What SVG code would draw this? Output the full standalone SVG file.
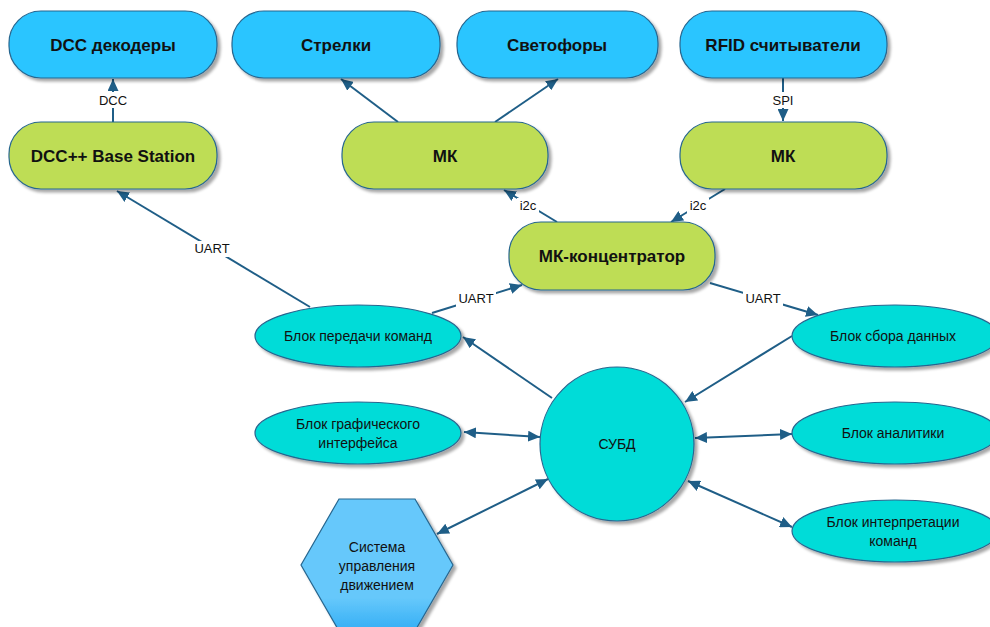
<svg xmlns="http://www.w3.org/2000/svg" width="990" height="627" viewBox="0 0 990 627">
  <style>
    .blue { fill: #29c5ff; stroke: #27668f; stroke-width: 1.2; }
    .green { fill: #bedd55; stroke: #27668f; stroke-width: 1.2; }
    .teal { fill: #05dcd8; stroke: #27668f; stroke-width: 1.2; }
    .hex { fill: url(#hexFill); stroke: #27668f; stroke-width: 1.2; }
    .shape { filter: url(#shadow); }
    .big { font-family: "Liberation Sans", Arial, sans-serif; font-weight: bold; font-size: 17px; fill: #111; text-anchor: middle; }
    .small { font-family: "Liberation Sans", Arial, sans-serif; font-size: 14px; fill: #111; text-anchor: middle; }
    .lbl { font-family: "Liberation Sans", Arial, sans-serif; font-size: 13px; fill: #111; text-anchor: middle; }
    .edge { stroke: #1f5e87; stroke-width: 2; fill: none; }
    .one { marker-end: url(#arrow); }
    .two { marker-start: url(#arrowStart); marker-end: url(#arrow); }
  </style>
  <defs>
    <filter id="shadow" x="-10%" y="-10%" width="130%" height="140%">
      <feGaussianBlur in="SourceAlpha" stdDeviation="1.5"/>
      <feOffset dx="3" dy="3" result="b"/>
      <feComponentTransfer><feFuncA type="linear" slope="0.35"/></feComponentTransfer>
      <feMerge><feMergeNode/><feMergeNode in="SourceGraphic"/></feMerge>
    </filter>
    <linearGradient id="hexFill" x1="0" y1="0" x2="0" y2="1">
      <stop offset="0" stop-color="#66c8fb"/>
      <stop offset="0.75" stop-color="#66c8fb"/>
      <stop offset="1" stop-color="#33aef5"/>
    </linearGradient>
    <!-- filled triangular heads for all links -->
    <marker id="arrow" viewBox="0 0 12 12" refX="12" refY="6" markerWidth="12" markerHeight="11" markerUnits="userSpaceOnUse" orient="auto" preserveAspectRatio="none">
      <path d="M0,0 L12,6 L0,12 z" fill="#1f5e87"/>
    </marker>
    <marker id="arrowStart" viewBox="0 0 12 12" refX="0" refY="6" markerWidth="12" markerHeight="11" markerUnits="userSpaceOnUse" orient="auto" preserveAspectRatio="none">
      <path d="M12,0 L0,6 L12,12 z" fill="#1f5e87"/>
    </marker>
  </defs>

  <g id="connectors">
    <line class="edge one" x1="113" y1="122" x2="113" y2="79"/>
    <line class="edge one" x1="398" y1="122" x2="341" y2="79"/>
    <line class="edge one" x1="495" y1="122" x2="558" y2="79"/>
    <line class="edge one" x1="783" y1="78" x2="783" y2="121"/>
    <line class="edge one" x1="557" y1="222" x2="504" y2="190"/>
    <line class="edge one" x1="725" y1="189" x2="671" y2="222"/>
    <line class="edge one" x1="310" y1="307" x2="117" y2="191"/>
    <line class="edge one" x1="432" y1="313" x2="522" y2="285"/>
    <line class="edge one" x1="710" y1="283" x2="818" y2="315"/>
    <line class="edge one" x1="552" y1="398" x2="463" y2="337"/>
    <line class="edge one" x1="792" y1="336" x2="685" y2="402"/>
    <line class="edge two" x1="464" y1="432" x2="540" y2="437"/>
    <line class="edge two" x1="695" y1="438" x2="792" y2="434"/>
    <line class="edge two" x1="688" y1="481" x2="792" y2="527"/>
    <line class="edge two" x1="437" y1="534" x2="548" y2="479"/>

    <rect x="98" y="92" width="30" height="16" fill="#fff"/>
    <text class="lbl" x="113" y="105">DCC</text>
    <rect x="770" y="92" width="26" height="16" fill="#fff"/>
    <text class="lbl" x="783" y="105">SPI</text>
    <rect x="517" y="198" width="22" height="16" fill="#fff"/>
    <text class="lbl" x="528" y="210">i2c</text>
    <rect x="687" y="198" width="22" height="16" fill="#fff"/>
    <text class="lbl" x="698" y="210">i2c</text>
    <rect x="193" y="241" width="38" height="16" fill="#fff"/>
    <text class="lbl" x="212" y="253">UART</text>
    <rect x="456" y="291" width="40" height="16" fill="#fff"/>
    <text class="lbl" x="476" y="303">UART</text>
    <rect x="743" y="291" width="40" height="16" fill="#fff"/>
    <text class="lbl" x="763" y="303">UART</text>
  </g>

  <g id="dcc-decoders">
    <rect class="blue shape" x="9" y="11" width="208" height="67" rx="32"/>
    <text class="big" x="113" y="51">DCC декодеры</text>
  </g>
  <g id="turnouts">
    <rect class="blue shape" x="232" y="11" width="208" height="67" rx="32"/>
    <text class="big" x="336" y="51">Стрелки</text>
  </g>
  <g id="signals">
    <rect class="blue shape" x="457" y="11" width="201" height="67" rx="32"/>
    <text class="big" x="557" y="51">Светофоры</text>
  </g>
  <g id="rfid-readers">
    <rect class="blue shape" x="680" y="11" width="207" height="67" rx="32"/>
    <text class="big" x="783" y="51">RFID считыватели</text>
  </g>

  <g id="base-station">
    <rect class="green shape" x="9" y="122" width="208" height="67" rx="32"/>
    <text class="big" x="113" y="162">DCC++ Base Station</text>
  </g>
  <g id="mk-left">
    <rect class="green shape" x="342" y="122" width="206" height="67" rx="32"/>
    <text class="big" x="445" y="162">МК</text>
  </g>
  <g id="mk-right">
    <rect class="green shape" x="680" y="122" width="207" height="67" rx="32"/>
    <text class="big" x="783" y="162">МК</text>
  </g>
  <g id="mk-hub">
    <rect class="green shape" x="509" y="222" width="206" height="68" rx="32"/>
    <text class="big" x="612" y="262">МК-концентратор</text>
  </g>

  <g id="command-tx">
    <ellipse class="teal shape" cx="358" cy="336" rx="103" ry="31"/>
    <text class="small" x="358" y="341">Блок передачи команд</text>
  </g>
  <g id="gui">
    <ellipse class="teal shape" cx="358" cy="433" rx="103" ry="31"/>
    <text class="small" x="358" y="429">Блок графического</text>
    <text class="small" x="358" y="448">интерфейса</text>
  </g>
  <g id="data-collect">
    <ellipse class="teal shape" cx="895" cy="336" rx="103" ry="31"/>
    <text class="small" x="893" y="341">Блок сбора данных</text>
  </g>
  <g id="analytics">
    <ellipse class="teal shape" cx="895" cy="433" rx="103" ry="31"/>
    <text class="small" x="893" y="438">Блок аналитики</text>
  </g>
  <g id="interpreter">
    <ellipse class="teal shape" cx="895" cy="531" rx="103" ry="31"/>
    <text class="small" x="893" y="527">Блок интерпретации</text>
    <text class="small" x="893" y="546">команд</text>
  </g>
  <g id="dbms">
    <circle class="teal shape" cx="617" cy="444" r="77"/>
    <text class="small" x="617" y="449">СУБД</text>
  </g>
  <g id="traffic-control">
    <polygon class="hex shape" points="339,499 415,499 453,565 415,631 339,631 301,565"/>
    <text class="small" x="377" y="552">Система</text>
    <text class="small" x="377" y="571">управления</text>
    <text class="small" x="377" y="590">движением</text>
  </g>
</svg>
